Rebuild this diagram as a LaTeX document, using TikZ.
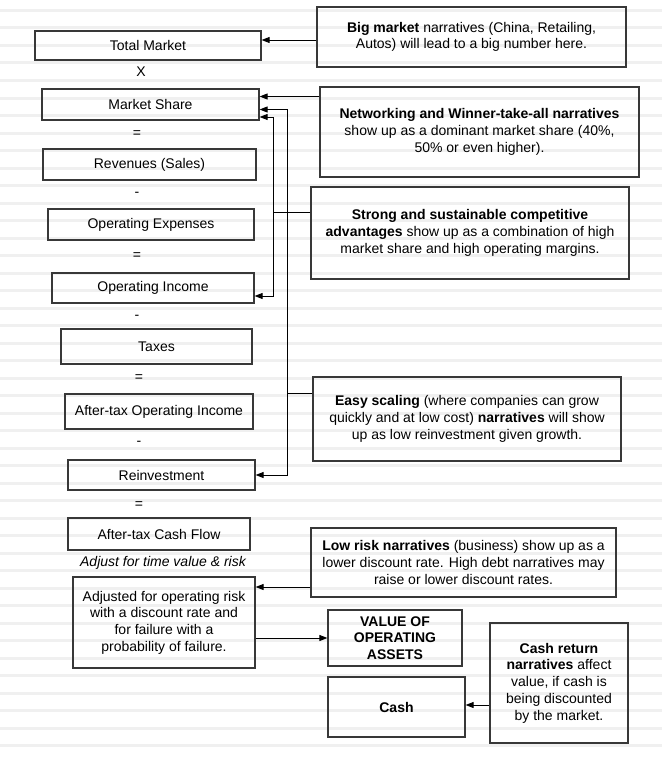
\documentclass[tikz,border=0pt]{standalone}
\usepackage{fontspec}
\setmainfont{Liberation Sans}
\usetikzlibrary{arrows.meta}
\begin{document}
\begin{tikzpicture}[x=1pt,y=-1pt,
  box/.style={draw=black!78, line width=1.2pt, inner sep=0pt, align=center,
    font=\fontsize{14}{16.7}\selectfont, text=black},
  op/.style={inner sep=0pt, font=\fontsize{14}{16.7}\selectfont},
  arr/.style={draw=black, line width=0.9pt, -{Triangle[length=8pt,width=6pt]}},
  ln/.style={draw=black, line width=0.9pt},
  stripe/.style={fill=black!6}]
% background
\fill[white] (0,0) rectangle (662,760);
\useasboundingbox (0,0) rectangle (662,760);
\foreach \i in {0,...,43} {
  \fill[stripe] (0,{9+17.5*\i}) rectangle (662,{12+17.5*\i});
}
% left column
\node[box, minimum width=226, minimum height=29] (tm) at (148,45.5) {Total Market};
\node[op] (o1) at (141,72) {X};
\node[box, minimum width=217, minimum height=31] (ms) at (150.5,104.5) {Market Share};
\node[op] (o2) at (137,134) {=};
\node[box, minimum width=213, minimum height=31] (rev) at (149.5,164.5) {Revenues (Sales)};
\node[op] (o3) at (137,194) {-};
\node[box, minimum width=206, minimum height=31] (opex) at (151,224.5) {Operating Expenses};
\node[op] (o4) at (137,256) {=};
\node[box, minimum width=202, minimum height=30] (oi) at (153,288) {Operating Income};
\node[op] (o5) at (137,317) {-};
\node[box, minimum width=191, minimum height=35] (tax) at (156.5,346.5) {Taxes};
\node[op] (o6) at (139,378) {=};
\node[box, minimum width=188, minimum height=35] (atoi) at (159,411.5) {After-tax Operating Income};
\node[op] (o7) at (139,443) {-};
\node[box, minimum width=187, minimum height=30] (reinv) at (161.5,475) {Reinvestment};
\node[op] (o8) at (139,505) {=};
\node[box, minimum width=182, minimum height=32] (atcf) at (159,534) {After-tax Cash Flow};
\node[op, font=\fontsize{14}{16.7}\selectfont\itshape] (adjl) at (163,563) {Adjust for time value \& risk};
\node[box, minimum width=182, minimum height=91] (adj) at (164,622.5) {Adjusted for operating risk\\with a discount rate and\\for failure with a\\probability of failure.};
% right column
\node[box, minimum width=309, minimum height=60] (big) at (471.5,37) {\textbf{Big market} narratives (China, Retailing,\\Autos) will lead to a big number here.};
\node[box, minimum width=319, minimum height=90] (net) at (479.5,132) {\textbf{Networking and Winner-take-all narratives}\\show up as a dominant market share (40\%,\\50\% or even higher).};
\node[box, minimum width=318, minimum height=92] (strong) at (470,233) {\textbf{Strong and sustainable competitive}\\\textbf{advantages} show up as a combination of high\\market share and high operating margins.};
\node[box, minimum width=308, minimum height=84] (easy) at (467,419) {\textbf{Easy scaling} (where companies can grow\\quickly and at low cost) \textbf{narratives} will show\\up as low reinvestment given growth.};
\node[box, minimum width=305, minimum height=69] (low) at (463.5,562.5) {\textbf{Low risk narratives} (business) show up as a\\lower discount rate. High debt narratives may\\raise or lower discount rates.};
\node[box, minimum width=134, minimum height=56] (val) at (395,638) {\textbf{VALUE OF}\\\textbf{OPERATING}\\\textbf{ASSETS}};
\node[box, minimum width=137, minimum height=60] (cash) at (396.5,707) {\textbf{Cash}};
\node[box, minimum width=138, minimum height=120] (cret) at (559,683) {\textbf{Cash return}\\\textbf{narratives} affect\\value, if cash is\\being discounted\\by the market.};
% connectors
\draw[arr] ([yshift=5.5pt]tm.east -| big.west) -- ([yshift=5.5pt]tm.east);
\draw[arr] ([yshift=8pt]ms.east -| net.west) -- ([yshift=8pt]ms.east);
\coordinate (v1) at ([xshift=14pt,yshift=-12.5pt]ms.east);
\draw[arr] (v1) -- ([yshift=-12.5pt]ms.east);
\draw[arr] (v1) |- ([yshift=-8pt]oi.east);
\draw[ln] ([yshift=21pt]strong.west) -| (v1);
\coordinate (v2) at ([xshift=28pt,yshift=-5pt]ms.east);
\draw[arr] (v2) -- ([yshift=-5pt]ms.east);
\draw[arr] (v2) |- (reinv.east);
\draw[ln] ([yshift=26pt]easy.west) -| (v2);
\draw[arr] ([yshift=-24.5pt]low.west) -- ([yshift=-24.5pt]low.west -| adj.east);
\draw[arr] (adj.east |- val.west) -- (val.west);
\draw[arr] ([yshift=2pt]cash.east -| cret.west) -- ([yshift=2pt]cash.east);
\end{tikzpicture}
\end{document}
